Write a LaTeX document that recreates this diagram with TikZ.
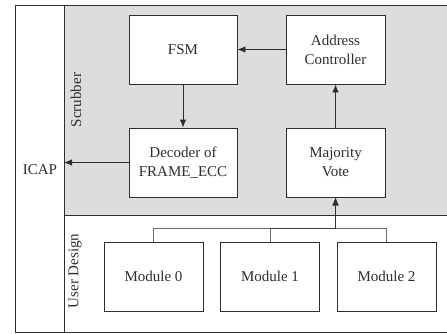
\documentclass[tikz,border=0pt]{standalone}
\usepackage{fontspec}
\setmainfont{Liberation Serif}
\usetikzlibrary{arrows.meta}
\definecolor{panelgray}{HTML}{DCDDDF}
\definecolor{ink}{HTML}{2E2E2E}
\begin{document}
\begin{tikzpicture}[x=1pt,y=-1pt,
  font=\fontsize{15}{19}\selectfont,
  block/.style={draw=ink,fill=white,line width=0.9pt,minimum height=69pt,
    align=center,text=ink,inner sep=0pt},
  wide/.style={block,minimum width=108pt},
  narrow/.style={block,minimum width=99pt},
  flow/.style={draw=ink,line width=0.9pt,-{Latex[length=8pt,width=6.5pt]}},
  feed/.style={draw=ink,line width=0.9pt,draw opacity=0.7,fill opacity=0.7,
    -{Latex[length=8pt,width=6.5pt]}},
  region/.style={text=ink,rotate=90}]
\useasboundingbox (0,0) rectangle (447,333);
% Scrubber area
\fill[panelgray] (64,5) rectangle (452,215);
% outer frame and region borders
\draw[ink,line width=0.9pt] (15,5) rectangle (452,332);
\draw[ink,line width=0.9pt] (64,5) -- (64,332);
\draw[ink,line width=0.9pt] (64,215) -- (452,215);
% region labels
\node[text=ink] (icap) at (40,170) {ICAP};
\node[region] (scrub) at (76,100) {Scrubber};
\node[region] (user) at (75,271) {User Design};
\coordinate (icapin) at (64,162.5);
% scrubber blocks
\node[wide] (fsm) at (183,49.5) {FSM};
\node[narrow] (addr) at (335.5,49.5) {Address\\Controller};
\node[wide] (dec) at (183,162.5) {Decoder of\\FRAME\_ECC};
\node[narrow] (vote) at (335.5,162.5) {Majority\\Vote};
% user design modules
\node[narrow] (m0) at (153.5,276.5) {Module 0};
\node[narrow] (m1) at (270,276.5) {Module 1};
\node[narrow] (m2) at (386.5,276.5) {Module 2};
% scrubber data flow
\draw[flow] (addr) -- (fsm);
\draw[flow] (fsm) -- (dec);
\draw[flow] (vote) -- (addr);
\draw[flow] (dec.west) -- (icapin);
% module outputs merged into the voter
\coordinate (bus) at (335.5,228);
\draw[feed] (m0.north) |- (bus) -- (vote.south);
\draw[feed] (m1.north) |- (bus) -- (vote.south);
\draw[feed] (m2.north) |- (bus) -- (vote.south);
\end{tikzpicture}
\end{document}
